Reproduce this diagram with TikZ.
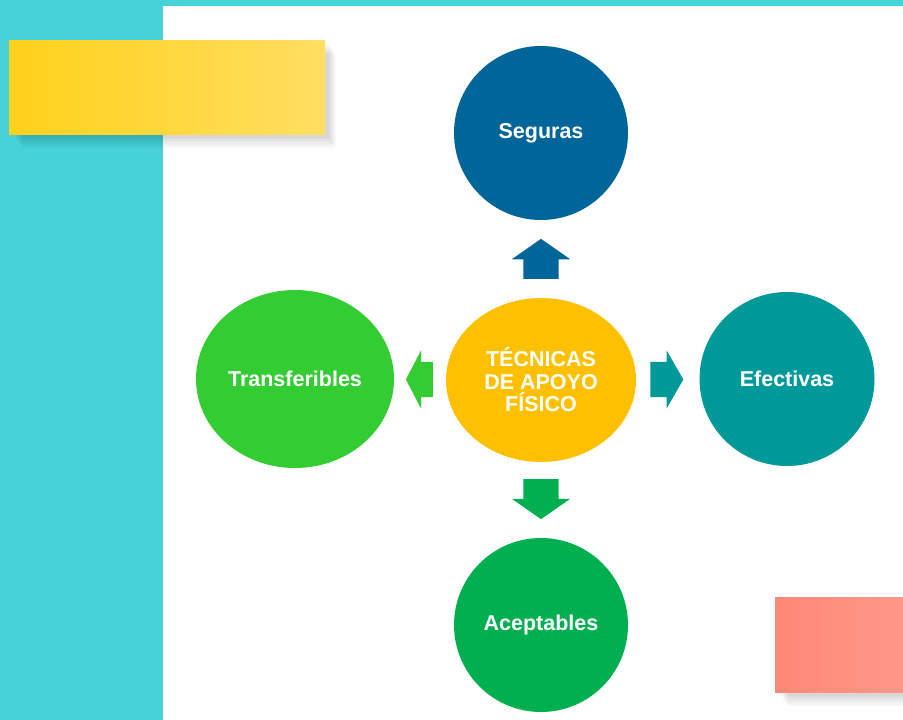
\documentclass[tikz,border=0pt]{standalone}
\usepackage{fontspec}
\setmainfont{Liberation Sans}
\usetikzlibrary{shapes.geometric,shapes.arrows,positioning,calc}
\definecolor{aqua}{HTML}{45D3D9}
\definecolor{segblue}{HTML}{006699}
\definecolor{amber}{HTML}{FFC000}
\definecolor{lime}{HTML}{33CC33}
\definecolor{tealc}{HTML}{009999}
\definecolor{greenc}{HTML}{00B050}
\definecolor{yelA}{HTML}{FFD11A}
\definecolor{yelB}{HTML}{FFDE62}
\definecolor{salA}{HTML}{FF8878}
\definecolor{salB}{HTML}{FF9788}

\begin{document}
\begin{tikzpicture}[x=1pt,y=-1pt,
  bubble/.style={ellipse, inner sep=0, text=white, font=\bfseries\fontsize{21.5}{22.5}\selectfont, align=center},
  blockarrow/.style={single arrow, draw=none, single arrow head extend=11.5},
  harrow/.style={blockarrow, inner xsep=0, inner ysep=17.5},
  varrow/.style={blockarrow, inner xsep=17.5, inner ysep=0, minimum height=40, single arrow tip angle=110},
  note/.style={draw=none, shading=axis, shading angle=90}]
  % Background and white sheet
  \fill[aqua] (0,0) rectangle (903,720);
  \fill[white] (163,6) rectangle (903,720);
  \useasboundingbox (0,0) rectangle (903,720);

  % Soft shadows under the paper strips
  \foreach \k in {1,...,8} {
    \fill[black, opacity=0.02] (14+\k,42+1.5*\k) rectangle (328+\k,136+1.5*\k);
    \fill[black, opacity=0.02] (780+\k,599+1.5*\k) rectangle (903,694+1.5*\k);
  }
  % Paper strips
  \fill[note, left color=yelA, right color=yelB] (9,40) rectangle (325,134);
  \fill[note, left color=salA, right color=salB] (775,597) rectangle (903,692);

  % Bubbles
  \node[bubble, fill=amber, minimum width=190, minimum height=164] (centro) at (541,380) {TÉCNICAS\\DE APOYO\\FÍSICO};
  \node[bubble, fill=segblue, minimum width=174, minimum height=174] (seguras) at (541,133) {Seguras};
  \node[bubble, fill=greenc, minimum width=174, minimum height=174] (aceptables) at (541,625) {Aceptables};
  \node[bubble, fill=lime, minimum width=198, minimum height=178] (transferibles) at (295,379) {Transferibles};
  \node[bubble, fill=tealc, minimum width=175, minimum height=174] (efectivas) at (787,379) {Efectivas};

  % Block arrows between the centre and each bubble
  \node[varrow, fill=segblue, shape border rotate=90, yshift=-6] (flechaS) at ($(centro.north)!0.5!(seguras.south)$) {};
  \node[varrow, fill=greenc, shape border rotate=270, yshift=7] (flechaA) at ($(centro.south)!0.5!(aceptables.north)$) {};
  \node[harrow, fill=lime, minimum height=27, single arrow tip angle=125, shape border rotate=180, xshift=4] (flechaT) at ($(centro.west)!0.5!(transferibles.east)$) {};
  \node[harrow, fill=tealc, minimum height=33, single arrow tip angle=120, xshift=-6] (flechaE) at ($(centro.east)!0.5!(efectivas.west)$) {};
\end{tikzpicture}
\end{document}
